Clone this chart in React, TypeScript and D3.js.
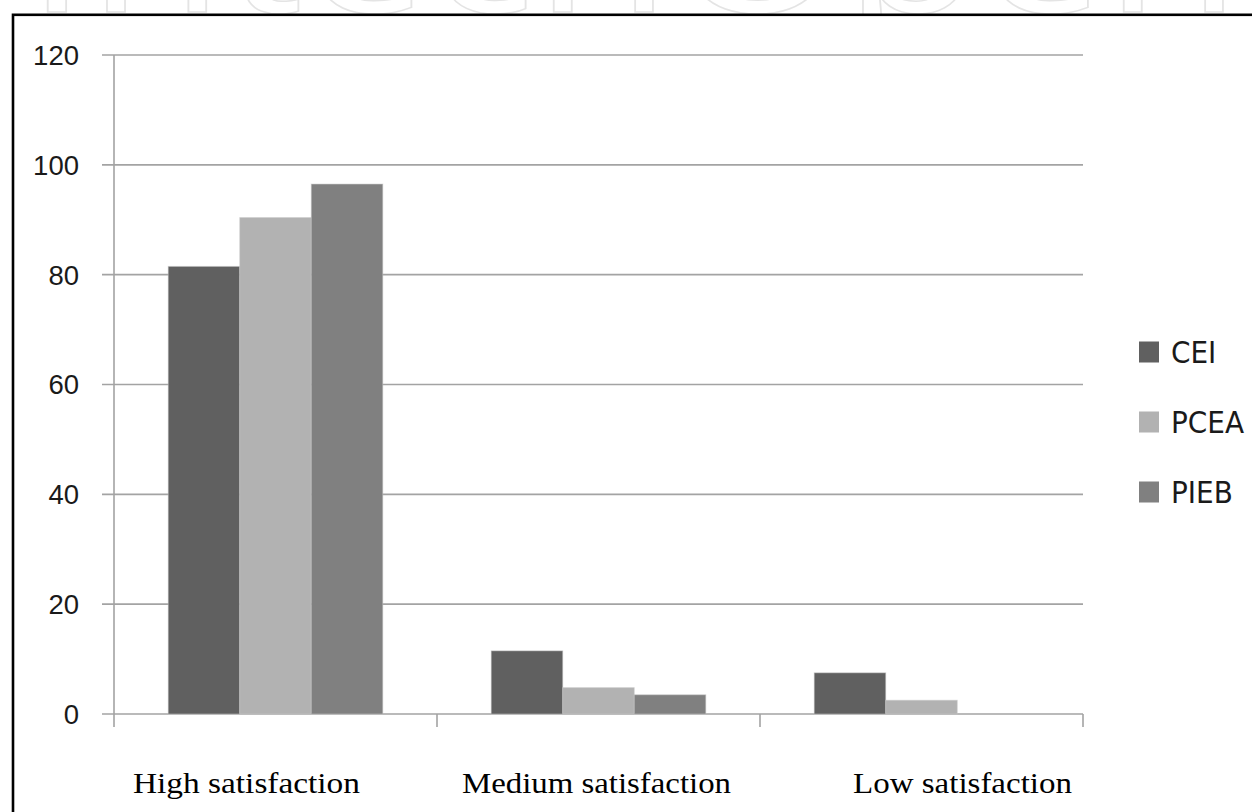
import React from "react";
import * as d3 from "d3";

const categories = ["High satisfaction", "Medium satisfaction", "Low satisfaction"];
const seriesNames = ["CEI", "PCEA", "PIEB"];
const ceiValues = [81.5, 11.5, 7.5];
const pceaValues = [90.4, 4.8, 2.5];
const piebValues = [96.5, 3.5, 0];
const yTicks = [0, 20, 40, 60, 80, 100, 120];
const seriesColors = ["#606060", "#b2b2b2", "#808080"];

const W = 1252;
const H = 812;
const plotLeft = 114;
const plotRight = 1083;
const plotTop = 55;
const plotBottom = 714;

export default function App() {
  const values = [ceiValues, pceaValues, piebValues];
  const x = d3.scaleBand<string>().domain(categories).range([plotLeft, plotRight]).paddingInner(0).paddingOuter(0);
  const inner = d3
    .scaleBand<string>()
    .domain(seriesNames)
    .range([0, x.bandwidth()])
    .paddingOuter(0.758)
    .paddingInner(0);
  const y = d3.scaleLinear().domain([0, 120]).range([plotBottom, plotTop]);

  const gridColor = "#a3a3a3";
  const catLabelX = [133, 462, 853];
  const catLabelW = [227, 269, 219];
  const legendY = [352, 422, 492];
  const catTickXs = [plotLeft, ...categories.map((c) => (x(c) as number) + x.bandwidth())];

  return (
    <svg
      width={W}
      height={H}
      viewBox={`0 0 ${W} ${H}`}
      style={{ position: "absolute", left: 0, top: 0, background: "#fff" }}
    >
      <rect x={0} y={0} width={W} height={H} fill="#ffffff" />
      {/* watermark, only its lower edge is visible */}
      <svg x={0} y={0} width={W} height={14} overflow="hidden">
        <text
          x={26}
          y={12}
          fontFamily="'Open Sans', sans-serif"
          fontSize={190}
          fill="#ffffff"
          stroke="#e4e4e4"
          strokeWidth={1.5}
          textLength={1215}
          lengthAdjust="spacingAndGlyphs"
        >
          IntechOpen
        </text>
      </svg>
      {/* frame */}
      <rect x={13} y={14.8} width={W} height={H} fill="#ffffff" stroke="#000" strokeWidth={2.6} />

      {/* gridlines with left ticks */}
      {yTicks.map((t) => (
        <line
          key={"g" + t}
          x1={102}
          x2={plotRight}
          y1={y(t)}
          y2={y(t)}
          stroke={gridColor}
          strokeWidth={1.6}
        />
      ))}
      {/* y axis */}
      <line x1={plotLeft} x2={plotLeft} y1={plotTop} y2={plotBottom} stroke={gridColor} strokeWidth={1.6} />
      {/* category ticks */}
      {catTickXs.map((cx, i) => (
        <line key={"ct" + i} x1={cx} x2={cx} y1={plotBottom} y2={727} stroke={gridColor} strokeWidth={1.6} />
      ))}
      {/* y tick labels */}
      {yTicks.map((t) => (
        <text
          key={"yl" + t}
          x={79}
          y={y(t)}
          dy="0.36em"
          textAnchor="end"
          fontFamily="'Liberation Sans', Arial, sans-serif"
          fontSize={27.5}
          fill="#1a1a1a"
        >
          {t}
        </text>
      ))}

      {/* bars */}
      {categories.map((c, ci) => (
        <g key={c}>
          {seriesNames.map((s, si) => {
            const v = values[si][ci];
            if (v <= 0) return null;
            const bx = (x(c) as number) + (inner(s) as number);
            return (
              <rect
                key={s}
                x={bx}
                y={y(v)}
                width={inner.bandwidth()}
                height={plotBottom - y(v)}
                fill={seriesColors[si]}
                stroke="#c8c8c8"
                strokeOpacity={0.5}
                strokeWidth={1}
              />
            );
          })}
        </g>
      ))}

      {/* legend */}
      {seriesNames.map((s, i) => (
        <g key={"lg" + s}>
          <rect x={1139} y={legendY[i] - 10.5} width={20} height={21} fill={seriesColors[i]} />
          <text
            x={1171}
            y={legendY[i]}
            dy="0.36em"
            fontFamily="'Liberation Sans Narrow', 'DejaVu Sans Condensed', sans-serif"
            fontSize={31}
            fill="#1a1a1a"
          >
            {s}
          </text>
        </g>
      ))}

      {/* category labels */}
      {categories.map((c, i) => (
        <text
          key={"cl" + c}
          x={catLabelX[i]}
          y={793}
          fontFamily="'Liberation Serif', 'DejaVu Serif', serif"
          fontSize={30}
          fill="#000"
          textLength={catLabelW[i]}
          lengthAdjust="spacingAndGlyphs"
        >
          {c}
        </text>
      ))}
    </svg>
  );
}
